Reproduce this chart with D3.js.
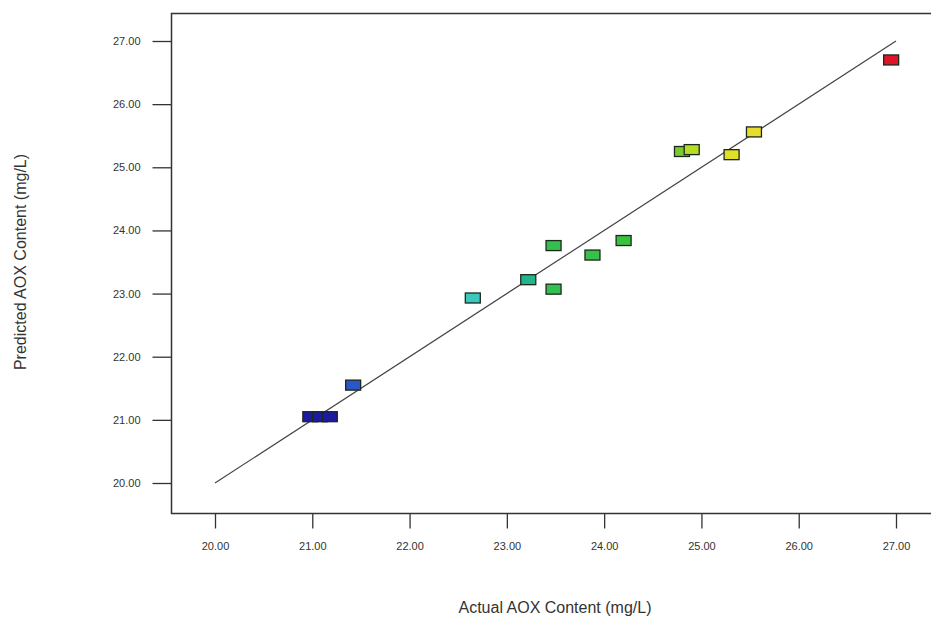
<!DOCTYPE html>
<html lang="en">
  <head>
    <meta charset="UTF-8" />
    <title>Predicted vs Actual AOX Content</title>
    <script src="https://d3js.org/d3.v7.min.js"></script>
    <style>
      body {
        margin: 0;
        background: #ffffff;
        font-family: Arial, 'Liberation Sans', sans-serif;
      }
      svg {
        display: block;
      }
    </style>
  </head>
  <body>
    <div id="chartContainer"></div>
    <script>
      // Actual vs predicted AOX content (mg/L)
      const actual = [20.98, 21.08, 21.18, 21.42, 22.65, 23.22, 23.48, 23.48, 23.88, 24.2, 24.8, 24.9, 25.31, 25.54, 26.95];
      const predicted = [21.05, 21.05, 21.05, 21.55, 22.93, 23.22, 23.76, 23.07, 23.61, 23.84, 25.25, 25.28, 25.2, 25.56, 26.7];
      const pointColors = ['#1c1aa0', '#1c1aa0', '#1c1aa0', '#2a56c8', '#3cc8be', '#22b48a', '#34c050', '#34c050', '#38c048', '#3cc040', '#7cc830', '#b8dc24', '#e0e028', '#e8dc2c', '#e01428'];
      const tickValues = [20, 21, 22, 23, 24, 25, 26, 27];
      const fitLine = [20, 27];

      const W = 931, H = 620;
      const margin = { left: 171, top: 13, right: -10, bottom: 107 };

      const svg = d3
        .select('#chartContainer')
        .append('svg')
        .attr('width', W)
        .attr('height', H);

      const x = d3.scaleLinear().domain([20, 27]).range([215, 896]);
      const y = d3.scaleLinear().domain([20, 27]).range([483, 41]);

      const plotBottom = H - margin.bottom + 0.5;

      // plot frame (right edge runs past the picture)
      svg
        .append('rect')
        .attr('x', margin.left + 0.5)
        .attr('y', margin.top + 0.5)
        .attr('width', W - margin.left - margin.right)
        .attr('height', plotBottom - margin.top - 0.5)
        .attr('fill', 'none')
        .attr('stroke', '#333')
        .attr('stroke-width', 1.5);

      // axes
      const xAxis = svg
        .append('g')
        .attr('transform', `translate(0,${plotBottom})`)
        .call(
          d3.axisBottom(x).tickValues(tickValues).tickSize(15).tickPadding(14).tickFormat(d3.format('.2f'))
        );
      xAxis.select('.domain').remove();

      const yAxis = svg
        .append('g')
        .attr('transform', `translate(${margin.left + 0.5},0)`)
        .call(
          d3.axisLeft(y).tickValues(tickValues).tickSize(19).tickPadding(12).tickFormat(d3.format('.2f'))
        );
      yAxis.select('.domain').remove();

      svg
        .selectAll('.tick line')
        .attr('stroke', '#333')
        .attr('stroke-width', 1.3);
      svg
        .selectAll('.tick text')
        .attr('fill', '#333')
        .style('font-size', '11px')
        .style('font-family', 'Arial, Liberation Sans, sans-serif');

      // 45 degree fit line
      svg
        .append('line')
        .attr('x1', x(fitLine[0]))
        .attr('y1', y(fitLine[0]))
        .attr('x2', x(fitLine[1]))
        .attr('y2', y(fitLine[1]))
        .attr('stroke', '#444')
        .attr('stroke-width', 1.2);

      // points
      const bw = 15, bh = 10;
      svg
        .selectAll('rect.pt')
        .data(actual)
        .enter()
        .append('rect')
        .attr('class', 'pt')
        .attr('x', d => x(d) - bw / 2)
        .attr('y', (d, i) => y(predicted[i]) - bh / 2)
        .attr('width', bw)
        .attr('height', bh)
        .attr('fill', (d, i) => pointColors[i])
        .attr('stroke', '#1a2a1a')
        .attr('stroke-width', 1.3);

      // axis titles
      svg
        .append('text')
        .attr('x', 555)
        .attr('y', 613)
        .attr('text-anchor', 'middle')
        .style('font-size', '16px')
        .attr('fill', '#333')
        .text('Actual AOX Content (mg/L)');

      svg
        .append('text')
        .attr('transform', 'translate(26,262) rotate(-90)')
        .attr('text-anchor', 'middle')
        .style('font-size', '16px')
        .attr('fill', '#333')
        .text('Predicted AOX Content (mg/L)');
    </script>
  </body>
</html>
